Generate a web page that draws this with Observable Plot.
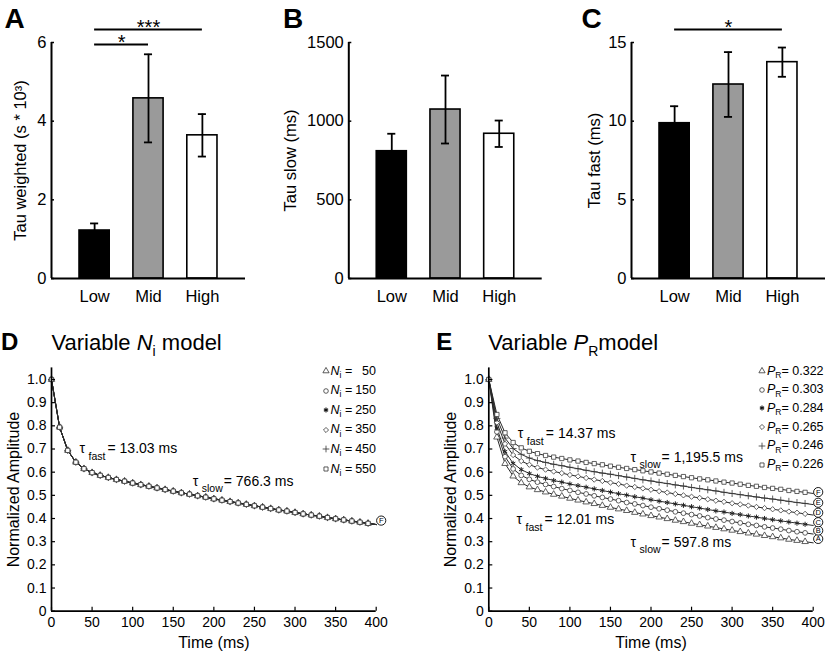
<!DOCTYPE html>
<html><head><meta charset="utf-8">
<script src="https://cdn.jsdelivr.net/npm/d3@7"></script>
<script src="https://cdn.jsdelivr.net/npm/@observablehq/plot@0.6"></script>
<style>
body{margin:0;background:#fff;}
#fig{position:relative;width:825px;height:652px;overflow:hidden;font-family:"Liberation Sans",Arial,Helvetica,sans-serif;color:#000;background:#fff;}
.abs{position:absolute;white-space:nowrap;line-height:1;}
.panel{position:absolute;}
.abs sub{font-size:0.68em;vertical-align:baseline;position:relative;top:0.38em;font-style:normal;}
</style></head><body><div id="fig"></div>
<script>
// ---------- data ----------
const categories = ["Low", "Mid", "High"];
const tauWeighted = [1.22, 4.58, 3.64];
const tauWeightedErr = [0.18, 1.12, 0.54];
const tauSlow = [809, 1074, 920];
const tauSlowErr = [111, 216, 84];
const tauFast = [9.87, 12.33, 13.75];
const tauFastErr = [1.08, 2.06, 0.93];
const sigA = [{from: "Low", to: "High", level: 6.33, label: "***"}, {from: "Low", to: "Mid", level: 5.95, label: "*"}];
const sigC = [{from: "Low", to: "High", level: 15.83, label: "*"}];
const ticksA = [0, 2, 4, 6];
const ticksB = [0, 500, 1000, 1500];
const ticksC = [0, 5, 10, 15];

const timeMs = [0,10,20,30,40,50,60,70,80,90,100,110,120,130,140,150,160,170,180,190,200,210,220,230,240,250,260,270,280,290,300,310,320,330,340,350,360,370,380,390,400];
const timeTicks = [0, 50, 100, 150, 200, 250, 300, 350, 400];
const ampTicks = [0, 0.1, 0.2, 0.3, 0.4, 0.5, 0.6, 0.7, 0.8, 0.9, 1.0];

const niValues = [50, 150, 250, 350, 450, 550];
const niAmplitude = [1.000,0.794,0.694,0.643,0.615,0.598,0.586,0.577,0.568,0.561,0.553,0.546,0.539,0.532,0.525,0.518,0.511,0.505,0.498,0.492,0.485,0.479,0.473,0.467,0.461,0.455,0.449,0.443,0.437,0.432,0.426,0.420,0.415,0.410,0.404,0.399,0.394,0.389,0.384,0.379,0.374];
const niEndLabels = ["F"];
const niEndLabelAmp = [0.391];
const niAnnotations = [
  {kind: "fast", value: "13.03 ms", t: 34.5, amp: 0.70},
  {kind: "slow", value: "766.3 ms", t: 174, amp: 0.56}
];

const prValues = ["0.322", "0.303", "0.284", "0.265", "0.246", "0.226"];
const prA = [1.000,0.751,0.637,0.583,0.554,0.536,0.524,0.514,0.504,0.496,0.487,0.479,0.471,0.464,0.456,0.448,0.441,0.434,0.426,0.419,0.412,0.406,0.399,0.392,0.386,0.379,0.373,0.367,0.361,0.355,0.349,0.343,0.337,0.332,0.326,0.321,0.316,0.310,0.305,0.300,0.295];
const prB = [1.000,0.774,0.667,0.614,0.586,0.569,0.557,0.547,0.538,0.529,0.521,0.513,0.506,0.498,0.491,0.484,0.477,0.469,0.463,0.456,0.449,0.442,0.436,0.429,0.423,0.417,0.411,0.404,0.398,0.393,0.387,0.381,0.375,0.370,0.364,0.359,0.354,0.348,0.343,0.338,0.333];
const prC = [1.000,0.790,0.689,0.638,0.611,0.594,0.582,0.573,0.564,0.557,0.549,0.542,0.535,0.528,0.521,0.514,0.507,0.501,0.494,0.488,0.481,0.475,0.469,0.463,0.457,0.451,0.445,0.439,0.433,0.428,0.422,0.417,0.411,0.406,0.400,0.395,0.390,0.385,0.380,0.375,0.370];
const prD = [1.000,0.814,0.722,0.674,0.648,0.632,0.620,0.611,0.603,0.596,0.588,0.582,0.575,0.568,0.562,0.555,0.549,0.542,0.536,0.530,0.524,0.518,0.512,0.506,0.500,0.494,0.489,0.483,0.477,0.472,0.466,0.461,0.456,0.450,0.445,0.440,0.435,0.430,0.425,0.420,0.415];
const prE = [1.000,0.832,0.747,0.702,0.677,0.661,0.650,0.642,0.634,0.628,0.621,0.615,0.608,0.602,0.596,0.591,0.585,0.579,0.573,0.567,0.562,0.556,0.551,0.545,0.540,0.534,0.529,0.524,0.519,0.513,0.508,0.503,0.498,0.493,0.488,0.484,0.479,0.474,0.469,0.465,0.460];
const prF = [1.000,0.849,0.770,0.728,0.705,0.690,0.680,0.672,0.665,0.659,0.653,0.648,0.642,0.637,0.632,0.626,0.621,0.616,0.611,0.606,0.601,0.596,0.591,0.586,0.581,0.576,0.571,0.567,0.562,0.557,0.553,0.548,0.543,0.539,0.534,0.530,0.526,0.521,0.517,0.513,0.508];
const prEndLabels = ["A", "B", "C", "D", "E", "F"];
const prEndLabelAmp = [0.312, 0.348, 0.384, 0.425, 0.468, 0.514];
const prAnnotations = [
  {kind: "fast", value: "14.37 ms", t: 35.8, amp: 0.766},
  {kind: "slow", value: "1,195.5 ms", t: 174.8, amp: 0.665},
  {kind: "fast", value: "12.01 ms", t: 34.2, amp: 0.394},
  {kind: "slow", value: "597.8 ms", t: 174.8, amp: 0.298}
];

// ---------- styles ----------
const FONT = '"Liberation Sans", Arial, Helvetica, sans-serif';
const barFills = ["#000000", "#9a9a9a", "#ffffff"];
const symbolNames = ["triangle", "circle", "asterisk", "diamond2", "plus", "square"];
const fig = document.getElementById("fig");

function place(node, left, top) {
  const d = document.createElement("div");
  d.className = "panel";
  d.style.left = left + "px";
  d.style.top = top + "px";
  d.appendChild(node);
  fig.appendChild(d);
}
function html(str, left, top, style) {
  const d = document.createElement("div");
  d.className = "abs";
  d.style.left = left + "px";
  d.style.top = top + "px";
  d.style.cssText += style || "";
  d.innerHTML = str;
  fig.appendChild(d);
  return d;
}

// ---------- bar panels ----------
function barPanel({values, errs, yTicks, yLabel, labelOffset, sig, ml, mr}) {
  const W = 275, H = 310, MT = 42, MB = 32;
  const fw = W - ml - mr;
  const xDomain = [0.2, 3.8];
  const yMax = yTicks[yTicks.length - 1];
  const rows = categories.map((c, i) => ({pos: i + 1, v: values[i], e: errs[i], fill: barFills[i]}));
  const sigRows = sig.map(s => ({...s, x1: categories.indexOf(s.from) + 1, x2: categories.indexOf(s.to) + 1}));
  return Plot.plot({
    width: W, height: H, marginLeft: ml, marginRight: mr, marginTop: MT, marginBottom: MB,
    style: {fontFamily: FONT, fontSize: "16.5px", color: "#000", background: "transparent", overflow: "visible"},
    x: {domain: xDomain},
    y: {domain: [0, yMax]},
    color: {type: "identity"},
    marks: [
      Plot.rectY(rows, {x1: d => d.pos - 0.28, x2: d => d.pos + 0.28, y1: 0, y2: "v", fill: "fill", stroke: "#000", strokeWidth: 1.6}),
      Plot.ruleX(rows, {x: "pos", y1: d => d.v - d.e, y2: d => d.v + d.e, stroke: "#000", strokeWidth: 1.8}),
      Plot.ruleY(rows, {y: d => d.v + d.e, x1: d => d.pos - 0.075, x2: d => d.pos + 0.075, stroke: "#000", strokeWidth: 1.8}),
      Plot.ruleY(rows, {y: d => d.v - d.e, x1: d => d.pos - 0.075, x2: d => d.pos + 0.075, stroke: "#000", strokeWidth: 1.8}),
      Plot.ruleY(yTicks, {insetRight: fw - 3, stroke: "#000", strokeWidth: 1.5}),
      Plot.ruleY([0], {stroke: "#000", strokeWidth: 2}),
      Plot.ruleX([xDomain[0]], {y1: 0, y2: yMax, stroke: "#000", strokeWidth: 2}),
      Plot.axisY(yTicks, {tickSize: 0, tickPadding: 5, label: null, tickFormat: d => String(d)}),
      Plot.axisX([1, 2, 3], {tickSize: 0, tickPadding: 12, tickFormat: i => categories[i - 1], label: null}),
      Plot.text([yLabel], {x: () => xDomain[0], y: () => yMax / 2, dx: -labelOffset, rotate: -90, text: d => d, textAnchor: "middle", lineAnchor: "middle", fontSize: 16.5}),
      Plot.ruleY(sigRows, {y: "level", x1: "x1", x2: "x2", stroke: "#000", strokeWidth: 2}),
      Plot.text(sigRows, {x: d => (d.x1 + d.x2) / 2, y: "level", text: "label", fontSize: 20, lineAnchor: "middle", dy: -1.5})
    ]
  });
}

place(barPanel({values: tauWeighted, errs: tauWeightedErr, yTicks: ticksA, yLabel: "Tau weighted (s * 10³)", labelOffset: 31, sig: sigA, ml: 51, mr: 30}), 0, 0);
place(barPanel({values: tauSlow, errs: tauSlowErr, yTicks: ticksB, yLabel: "Tau slow (ms)", labelOffset: 58, sig: [], ml: 73.3, mr: 8.3}), 275, 0);
place(barPanel({values: tauFast, errs: tauFastErr, yTicks: ticksC, yLabel: "Tau fast (ms)", labelOffset: 37, sig: sigC, ml: 81, mr: 0}), 550, 0);

// ---------- decay panels ----------
function curvePanel({W, ml, mr, series, endRows, annotations}) {
  const H = 332, MT = 47.4, MB = 41.3;
  const fw = W - ml - mr, fh = H - MT - MB;
  const yMax = 1.05;
  const tEnd = timeMs[timeMs.length - 1];
  const lineMarks = series.map(s => Plot.line(timeMs.map((t, i) => ({t, v: s.values[i]})), {x: "t", y: "v", stroke: "#2a2a2a", strokeWidth: 1}));
  const dotMarks = series.map(s => {
    const pts = timeMs.map((t, i) => ({t, v: s.values[i]})).filter(d => d.t < tEnd);
    const star = s.symbol === "asterisk";
    return Plot.dot(pts, {x: "t", y: "v", symbol: s.symbol, r: star ? 2.4 : 2.4, fill: star || s.symbol === "plus" ? "none" : "white", stroke: star ? "#222" : "#3a3a3a", strokeWidth: star ? 1.0 : 0.8});
  });
  return Plot.plot({
    width: W, height: H, marginLeft: ml, marginRight: mr, marginTop: MT, marginBottom: MB,
    style: {fontFamily: FONT, fontSize: "14px", color: "#000", background: "transparent", overflow: "visible"},
    x: {domain: [0, tEnd]},
    y: {domain: [0, yMax]},
    marks: [
      ...lineMarks,
      ...dotMarks,
      Plot.ruleY(ampTicks, {insetRight: fw - 4, stroke: "#000", strokeWidth: 1.2}),
      Plot.ruleX(timeTicks, {insetTop: fh - 4, stroke: "#000", strokeWidth: 1.2}),
      Plot.ruleY([0], {stroke: "#000", strokeWidth: 1.7}),
      Plot.ruleX([0], {y1: 0, y2: yMax, stroke: "#000", strokeWidth: 1.7}),
      Plot.axisY(ampTicks, {tickSize: 0, tickPadding: 5, label: null, tickFormat: d => d === 0 ? "0" : d.toFixed(1)}),
      Plot.axisX(timeTicks, {tickSize: 0, tickPadding: 6, label: null}),
      Plot.text(["Normalized Amplitude"], {x: () => 0, y: () => yMax / 2, dx: -38, rotate: -90, text: d => d, textAnchor: "middle", lineAnchor: "middle", fontSize: 16}),
      Plot.text(["Time (ms)"], {x: () => tEnd / 2, y: () => 0, dy: 32, text: d => d, textAnchor: "middle", lineAnchor: "middle", fontSize: 16}),
      Plot.dot(endRows, {x: () => tEnd, y: "amp", dx: 5, r: 4.6, fill: "white", stroke: "#000", strokeWidth: 0.9}),
      Plot.text(endRows, {x: () => tEnd, y: "amp", dx: 5, text: "label", fontSize: 7.5, lineAnchor: "middle"}),
      Plot.text(annotations, {x: "t", y: "amp", text: () => "τ", fontSize: 14, textAnchor: "start", lineAnchor: "middle"}),
      Plot.text(annotations, {x: "t", y: "amp", text: "kind", fontSize: 10.5, textAnchor: "start", lineAnchor: "middle", dx: 9, dy: 7.5}),
      Plot.text(annotations.filter(d => d.kind === "fast"), {x: "t", y: "amp", text: d => "= " + d.value, fontSize: 14, textAnchor: "start", lineAnchor: "middle", dx: 28}),
      Plot.text(annotations.filter(d => d.kind === "slow"), {x: "t", y: "amp", text: d => "= " + d.value, fontSize: 14, textAnchor: "start", lineAnchor: "middle", dx: 31})
    ]
  });
}

const niSeries = niValues.map((n, k) => ({symbol: symbolNames[k], values: niAmplitude}));
place(curvePanel({
  W: 410, ml: 51, mr: 34.3, series: niSeries,
  endRows: niEndLabels.map((l, i) => ({label: l, amp: niEndLabelAmp[i]})),
  annotations: niAnnotations
}), 0, 320);

const prCurves = [prA, prB, prC, prD, prE, prF];
const prSeries = prCurves.map((vals, k) => ({symbol: symbolNames[k], values: vals}));
place(curvePanel({
  W: 415, ml: 78.3, mr: 12.3, series: prSeries,
  endRows: prEndLabels.map((l, i) => ({label: l, amp: prEndLabelAmp[i]})),
  annotations: prAnnotations
}), 410, 320);

// ---------- panel letters & titles ----------
html("A", 4.5, 4.6, "font-size:28px;font-weight:bold;");
html("B", 283, 4.6, "font-size:28px;font-weight:bold;");
html("C", 581.5, 4.6, "font-size:28px;font-weight:bold;");
html("D", 1, 330.4, "font-size:24px;font-weight:bold;");
html("E", 436.3, 330.4, "font-size:24px;font-weight:bold;");
html('Variable <i>N</i><sub style="font-size:14px;top:6px">i</sub> model', 51.5, 332, "font-size:22px;");
html('Variable <i>P</i><sub style="font-size:14px;top:6px">R</sub>model', 488.3, 332, "font-size:22px;");

// ---------- legends ----------
const d3Sym = {triangle: d3.symbolTriangle, circle: d3.symbolCircle, asterisk: d3.symbolAsterisk,
  diamond2: d3.symbolDiamond2 || d3.symbolDiamond, plus: d3.symbolPlus || d3.symbolCross, square: d3.symbolSquare};
function legendSymbol(name, cx, cy) {
  const r = 2.3;
  const path = d3.symbol(d3Sym[name], r * r * Math.PI)();
  const star = name === "asterisk";
  const fill = star || name === "plus" ? "none" : "white";
  const svg = `<svg width="12" height="12" style="display:block"><path d="${path}" transform="translate(6,6)" fill="${fill}" stroke="${star ? '#111' : '#333'}" stroke-width="${star ? 1.1 : 0.8}"/></svg>`;
  html(svg, cx - 6, cy - 6, "");
}
niValues.forEach((n, i) => {
  const cy = 371 + i * 19.6;
  legendSymbol(symbolNames[i], 325.5, cy);
  html('<i>N</i><sub>i</sub> =', 330.5, cy - 6.4, "font-size:12.5px;");
  html(String(n), 346, cy - 6.4, "font-size:12.5px;width:30px;text-align:right;");
});
prValues.forEach((p, i) => {
  const cy = 371 + i * 18.7;
  legendSymbol(symbolNames[i], 762, cy);
  html('<i>P</i><sub>R</sub>= ' + p, 767, cy - 6.4, "font-size:12.5px;");
});
</script></body></html>
